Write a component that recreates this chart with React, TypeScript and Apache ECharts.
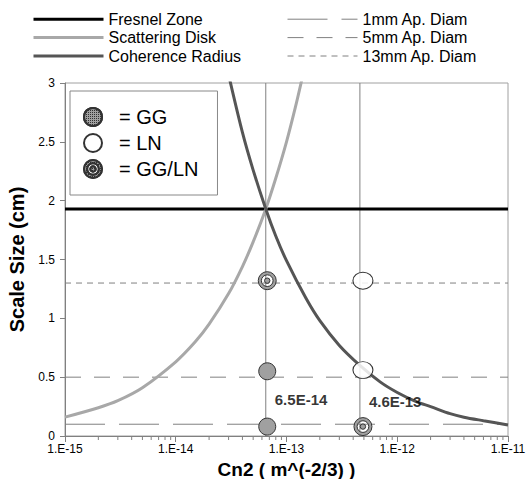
import React, { useEffect, useRef } from 'react';
import * as echarts from 'echarts';

const FONT = '"Liberation Sans", Arial, sans-serif';

// Axis
const xMin = 1e-15;
const xMax = 1e-11;
const xTickExponents = [-15, -14, -13, -12, -11];
const xTickLabels = ['1.E-15', '1.E-14', '1.E-13', '1.E-12', '1.E-11'];
const minorMantissas = [2, 3, 4, 5, 6, 7, 8, 9];
const minorDecades = [1e-15, 1e-14, 1e-13, 1e-12];

// Fresnel zone (constant)
const fresnelZone = 1.93;

// Scattering disk
const scatterCn2 = [1e-15, 2e-15, 3e-15, 5e-15, 1e-14, 1.5e-14, 2e-14, 3e-14, 4e-14, 5e-14, 6.5e-14, 8e-14, 1e-13, 1.2e-13, 1.4e-13];
const scatterDisk = [0.16, 0.24, 0.3, 0.41, 0.63, 0.8, 0.95, 1.21, 1.44, 1.65, 1.93, 2.19, 2.5, 2.79, 3.06];

// Coherence radius
const coherenceCn2 = [3e-14, 4e-14, 5e-14, 6.5e-14, 8e-14, 1e-13, 1.5e-13, 2e-13, 3e-13, 4.6e-13, 7e-13, 1e-12, 1.5e-12, 2e-12, 3e-12, 4e-12, 6e-12, 1e-11];
const coherenceRadius = [3.07, 2.58, 2.26, 1.93, 1.7, 1.49, 1.17, 0.98, 0.77, 0.6, 0.46, 0.37, 0.29, 0.25, 0.19, 0.16, 0.13, 0.094];

// Aperture diameters (cm)
const apertureNames = ['1mm Ap. Diam', '5mm Ap. Diam', '13mm Ap. Diam'];
const apertureCm = [0.1, 0.5, 1.3];

// Cn2 marks
const markCn2 = [6.5e-14, 4.6e-13];
const markLabels = ['6.5E-14', '4.6E-13'];
const markLabelY = [0.31, 0.29];

// Measurements
const ggPoints = [[6.7e-14, 0.55], [6.7e-14, 0.08]];
const lnPoints = [[4.9e-13, 1.32], [4.9e-13, 0.56]];
const ggLnPoints = [[6.7e-14, 1.32], [4.9e-13, 0.08]];

const CIRCLE = 'path://M0,10 A10,10 0 1,1 20,10 A10,10 0 1,1 0,10 Z';
const TARGET =
  'path://M0,10 A10,10 0 1,1 20,10 A10,10 0 1,1 0,10 Z ' +
  'M3.5,10 A6.5,6.5 0 1,0 16.5,10 A6.5,6.5 0 1,0 3.5,10 Z ' +
  'M7,10 A3,3 0 1,1 13,10 A3,3 0 1,1 7,10 Z';

const hatch = {
  symbol: 'rect',
  symbolSize: 1,
  color: 'rgba(30,30,30,0.85)',
  dashArrayX: [1, 1],
  dashArrayY: [1, 1],
  rotation: 0,
};

export default function App() {
  const ref = useRef<HTMLDivElement>(null);
  useEffect(() => {
    if (!ref.current) return;
    const chart = echarts.init(ref.current, undefined, { renderer: 'svg' });
    const dashTypes: any[] = [[40, 14], [16, 13], [6, 5]];
    const minorTicks: number[][] = [];
    minorDecades.forEach((d) => minorMantissas.forEach((m) => minorTicks.push([m * d, 0])));

    const series: any[] = [];
    apertureNames.forEach((name, i) => {
      series.push({
        name,
        type: 'line',
        symbol: 'none',
        z: 1,
        itemStyle: { color: '#808080' },
        lineStyle: { color: '#808080', width: 1, type: dashTypes[i] },
        data: [[xMin, apertureCm[i]], [xMax, apertureCm[i]]],
      });
    });
    markCn2.forEach((v, i) => {
      series.push({
        name: 'mark' + i,
        type: 'line',
        symbol: 'none',
        z: 1,
        lineStyle: { color: '#808080', width: 1 },
        data: [[v, 0], [v, 3]],
      });
    });
    series.push(
      {
        name: 'Fresnel Zone',
        type: 'line',
        symbol: 'none',
        z: 3,
        itemStyle: { color: '#000' },
        lineStyle: { color: '#000', width: 3 },
        data: [[xMin, fresnelZone], [xMax, fresnelZone]],
      },
      {
        name: 'Scattering Disk',
        type: 'line',
        symbol: 'none',
        smooth: 0.3,
        z: 3,
        itemStyle: { color: '#a8a8a8' },
        lineStyle: { color: '#a8a8a8', width: 3 },
        data: scatterCn2.map((x, i) => [x, scatterDisk[i]]),
      },
      {
        name: 'Coherence Radius',
        type: 'line',
        symbol: 'none',
        smooth: 0.3,
        z: 3,
        itemStyle: { color: '#555555' },
        lineStyle: { color: '#555555', width: 3 },
        data: coherenceCn2.map((x, i) => [x, coherenceRadius[i]]),
      },
      {
        name: 'GG',
        type: 'scatter',
        symbol: 'circle',
        symbolSize: 17,
        z: 5,
        itemStyle: { color: '#a0a0a0', borderColor: '#333', borderWidth: 1, opacity: 1, decal: hatch },
        data: ggPoints,
      },
      {
        name: 'LN',
        type: 'scatter',
        symbol: CIRCLE,
        symbolSize: [20, 17],
        z: 5,
        itemStyle: { color: 'rgba(255,255,255,0.85)', borderColor: '#333', borderWidth: 1, opacity: 1 },
        data: lnPoints,
      },
      {
        name: 'GG/LN',
        type: 'scatter',
        symbol: TARGET,
        symbolSize: 18,
        z: 5,
        itemStyle: { color: '#a0a0a0', borderColor: '#333', borderWidth: 1, opacity: 1, decal: hatch },
        data: ggLnPoints,
      },
      {
        name: 'labels',
        type: 'scatter',
        symbolSize: 0,
        z: 6,
        label: {
          show: true,
          position: 'right',
          distance: 9,
          formatter: (p: any) => p.value[2],
          fontFamily: FONT,
          fontSize: 15,
          fontWeight: 'bold',
          color: '#000',
        },
        data: markCn2.map((v, i) => [v, markLabelY[i], markLabels[i]]),
      },
      {
        name: 'minorTicks',
        type: 'custom',
        z: 2,
        renderItem: (params: any, api: any) => {
          const p = api.coord([api.value(0), 0]);
          return {
            type: 'line',
            shape: { x1: p[0], y1: p[1], x2: p[0], y2: p[1] + 4 },
            style: { stroke: '#808080', lineWidth: 1 },
          };
        },
        data: minorTicks,
      }
    );

    const lineLegendText = { fontFamily: FONT, fontSize: 16, lineHeight: 18.4, color: '#000' };

    chart.setOption({
      animation: false,
      backgroundColor: '#fff',
      textStyle: { fontFamily: FONT },
      grid: {
        left: 65,
        right: 19,
        top: 83,
        bottom: 43,
        outerBoundsMode: 'none',
        containLabel: false,
        show: true,
        borderColor: '#a0a0a0',
        borderWidth: 1,
        backgroundColor: 'transparent',
      },
      legend: [
        {
          data: ['Fresnel Zone', 'Scattering Disk', 'Coherence Radius'],
          orient: 'vertical',
          left: 32,
          top: 10,
          itemWidth: 70,
          itemHeight: 14,
          itemGap: 0,
          padding: 0,
          selectedMode: false,
          itemStyle: { opacity: 0 },
          lineStyle: { width: 3 },
          textStyle: lineLegendText,
        },
        {
          data: apertureNames,
          orient: 'vertical',
          left: 287,
          top: 10,
          itemWidth: 70,
          itemHeight: 14,
          itemGap: 0,
          padding: 0,
          selectedMode: false,
          itemStyle: { opacity: 0 },
          lineStyle: { width: 1 },
          textStyle: lineLegendText,
        },
        {
          data: ['GG', 'LN', 'GG/LN'],
          orient: 'vertical',
          left: 70,
          top: 91,
          itemWidth: 18,
          itemHeight: 18,
          itemGap: 6,
          padding: [16, 19, 16, 13],
          backgroundColor: '#fff',
          borderColor: '#888',
          borderWidth: 1,
          selectedMode: false,
          formatter: (name: string) => '= ' + name,
          textStyle: { fontFamily: FONT, fontSize: 20, lineHeight: 19, color: '#000', padding: [0, 0, 0, 12] },
        },
      ],
      xAxis: {
        type: 'log',
        logBase: 10,
        min: xMin,
        max: xMax,
        name: 'Cn2 ( m^(-2/3) )',
        nameLocation: 'middle',
        nameGap: 18.5,
        nameTextStyle: { fontFamily: FONT, fontSize: 19, fontWeight: 'bold', color: '#000' },
        axisLine: { lineStyle: { color: '#808080', width: 1 } },
        axisTick: { show: true, inside: false, length: 6, lineStyle: { color: '#808080' } },
        splitLine: { show: false },
        axisLabel: {
          fontFamily: FONT,
          fontSize: 12,
          color: '#000',
          margin: 7,
          formatter: (v: number) => {
            const e = Math.round(Math.log10(v));
            const idx = xTickExponents.indexOf(e);
            return idx >= 0 ? xTickLabels[idx] : '';
          },
        },
      },
      yAxis: {
        type: 'value',
        min: 0,
        max: 3,
        interval: 0.5,
        name: 'Scale Size (cm)',
        nameLocation: 'middle',
        nameGap: 23,
        nameTextStyle: { fontFamily: FONT, fontSize: 20, fontWeight: 'bold', color: '#000' },
        axisLine: { show: true, lineStyle: { color: '#808080', width: 1 } },
        axisTick: { show: true, inside: false, length: 5, lineStyle: { color: '#808080' } },
        splitLine: { show: false },
        axisLabel: { fontFamily: FONT, fontSize: 12, color: '#000', margin: 10 },
      },
      series,
    });
    return () => chart.dispose();
  }, []);
  return <div ref={ref} style={{ position: 'fixed', left: 0, top: 0, width: 527, height: 479 }} />;
}
